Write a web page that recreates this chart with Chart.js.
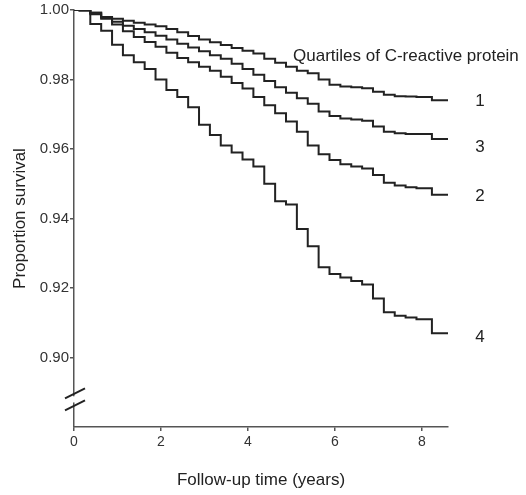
<!DOCTYPE html>
<html>
<head>
<meta charset="utf-8">
<script src="https://cdn.jsdelivr.net/npm/chart.js@4/dist/chart.umd.min.js"></script>
<style>
  html, body { margin: 0; padding: 0; background: #fff; }
  #wrap { width: 526px; height: 495px; }
</style>
</head>
<body>
<div id="wrap"><canvas id="km"></canvas></div>
<script>
// Follow-up times (years) shared by all four curves
const years = [0, 0.25, 0.5, 0.75, 1, 1.25, 1.5, 1.75, 2, 2.25, 2.5, 2.75, 3, 3.25, 3.5, 3.75,
  4, 4.25, 4.5, 4.75, 5, 5.25, 5.5, 5.75, 6, 6.25, 6.5, 6.75, 7, 7.25, 7.5, 7.75, 8, 8.22, 8.24, 8.6];

// Proportion surviving, by CRP quartile
const quartile1 = [1.000, 1.000, 0.9992, 0.998, 0.9975, 0.9969, 0.9963, 0.9958, 0.9953, 0.9945, 0.9936, 0.9925,
  0.9915, 0.9907, 0.9899, 0.9891, 0.9883, 0.9875, 0.9860, 0.9848, 0.9837, 0.9825, 0.9818, 0.9800,
  0.9785, 0.9780, 0.9778, 0.9775, 0.9765, 0.9756, 0.9752, 0.9751, 0.9750, 0.9750, 0.9740, 0.9740];
const quartile2 = [1.000, 0.9998, 0.9988, 0.9975, 0.9958, 0.9939, 0.9922, 0.9908, 0.9894, 0.9877, 0.9862, 0.9850,
  0.9837, 0.9825, 0.9808, 0.9790, 0.9774, 0.9750, 0.9726, 0.9703, 0.9679, 0.9650, 0.9610, 0.9585,
  0.9568, 0.9556, 0.9550, 0.9544, 0.9525, 0.9503, 0.9495, 0.9490, 0.9487, 0.9487, 0.9468, 0.9468];
const quartile3 = [1.000, 1.000, 0.9992, 0.9978, 0.9966, 0.9955, 0.9945, 0.9936, 0.9926, 0.9915, 0.9903, 0.9892,
  0.9881, 0.9870, 0.9860, 0.9845, 0.9830, 0.9814, 0.9796, 0.9778, 0.9762, 0.9746, 0.9730, 0.9708,
  0.9695, 0.9688, 0.9685, 0.9681, 0.9665, 0.9650, 0.9645, 0.9643, 0.9643, 0.9643, 0.9629, 0.9629];
const quartile4 = [1.000, 1.000, 0.996, 0.994, 0.990, 0.987, 0.985, 0.983, 0.980, 0.977, 0.975, 0.972,
  0.967, 0.964, 0.961, 0.959, 0.957, 0.955, 0.950, 0.945, 0.944, 0.937, 0.932, 0.926,
  0.924, 0.923, 0.922, 0.921, 0.917, 0.913, 0.912, 0.9115, 0.911, 0.911, 0.907, 0.907];

const xTicks = [0, 2, 4, 6, 8];
const yTicks = [0.90, 0.92, 0.94, 0.96, 0.98, 1.00];
const curveLabels = ['1', '2', '3', '4'];
const legendTitle = 'Quartiles of C-reactive protein';

const FONT = '"Liberation Sans", Arial, Helvetica, sans-serif';
const INK = '#222';
const AXIS = '#555';

function series(values) {
  return values.map((v, i) => ({ x: years[i], y: v }));
}

const curves = [quartile1, quartile2, quartile3, quartile4];
const labelNudge = [1, 1, 8, 4];

// labels at the right end of each curve, the legend heading, and the axis break
const annotate = {
  id: 'annotate',
  afterDraw(chart) {
    const { ctx, chartArea, scales } = chart;
    const y = scales.y;
    ctx.save();
    ctx.fillStyle = INK;
    ctx.font = '17px ' + FONT;
    ctx.textAlign = 'left';
    ctx.textBaseline = 'middle';
    ctx.fillText(legendTitle, chartArea.right - 155, 56);

    ctx.textAlign = 'center';
    curves.forEach((vals, i) => {
      const py = y.getPixelForValue(vals[vals.length - 1]);
      ctx.fillText(curveLabels[i], chartArea.right + 32, py + labelNudge[i]);
    });

    // axis break: two slashes with a gap between them
    const ax = chartArea.left;
    const b1 = y.getPixelForValue(0.8897);
    const b2 = y.getPixelForValue(0.8862);
    ctx.fillStyle = '#fff';
    ctx.fillRect(ax - 3, b1 + 3, 6, b2 - b1 - 6);
    ctx.strokeStyle = INK;
    ctx.lineWidth = 2;
    [b1, b2].forEach(by => {
      ctx.beginPath();
      ctx.moveTo(ax - 9, by + 5);
      ctx.lineTo(ax + 11, by - 5);
      ctx.stroke();
    });
    ctx.restore();
  }
};

new Chart(document.getElementById('km'), {
  type: 'line',
  data: {
    datasets: curves.map((vals, i) => ({
      label: 'Q' + curveLabels[i],
      data: series(vals),
      stepped: 'middle',
      borderColor: INK,
      borderWidth: 2,
      pointRadius: 0,
      fill: false
    }))
  },
  options: {
    responsive: true,
    maintainAspectRatio: false,
    animation: false,
    layout: { padding: { left: 0, right: 78, top: 10, bottom: 0 } },
    plugins: { legend: { display: false }, tooltip: { enabled: false } },
    scales: {
      x: {
        type: 'linear',
        min: 0,
        max: 8.6,
        afterBuildTicks: s => { s.ticks = xTicks.map(v => ({ value: v })); },
        afterFit: s => { s.height = 68; },
        grid: { drawOnChartArea: false, drawTicks: true, tickLength: 4, color: AXIS, lineWidth: 1.5 },
        border: { display: true, color: AXIS, width: 1.5 },
        ticks: { color: '#333', font: { family: FONT, size: 14 }, padding: 3, maxRotation: 0 },
        title: { display: true, text: 'Follow-up time (years)', color: INK, font: { family: FONT, size: 17 }, padding: { top: 10 } }
      },
      y: {
        min: 0.88,
        max: 1.00,
        afterBuildTicks: s => { s.ticks = yTicks.map(v => ({ value: v })); },
        afterFit: s => { s.width = 74; },
        grid: { drawOnChartArea: false, drawTicks: true, tickLength: 4, color: AXIS, lineWidth: 1.5 },
        border: { display: true, color: AXIS, width: 1.5 },
        ticks: { color: '#333', font: { family: FONT, size: 15 }, padding: 1, callback: v => v.toFixed(2) },
        title: { display: true, text: 'Proportion survival', color: INK, font: { family: FONT, size: 17 }, padding: { top: 10, bottom: 4 } }
      }
    }
  },
  plugins: [annotate]
});
</script>
</body>
</html>
